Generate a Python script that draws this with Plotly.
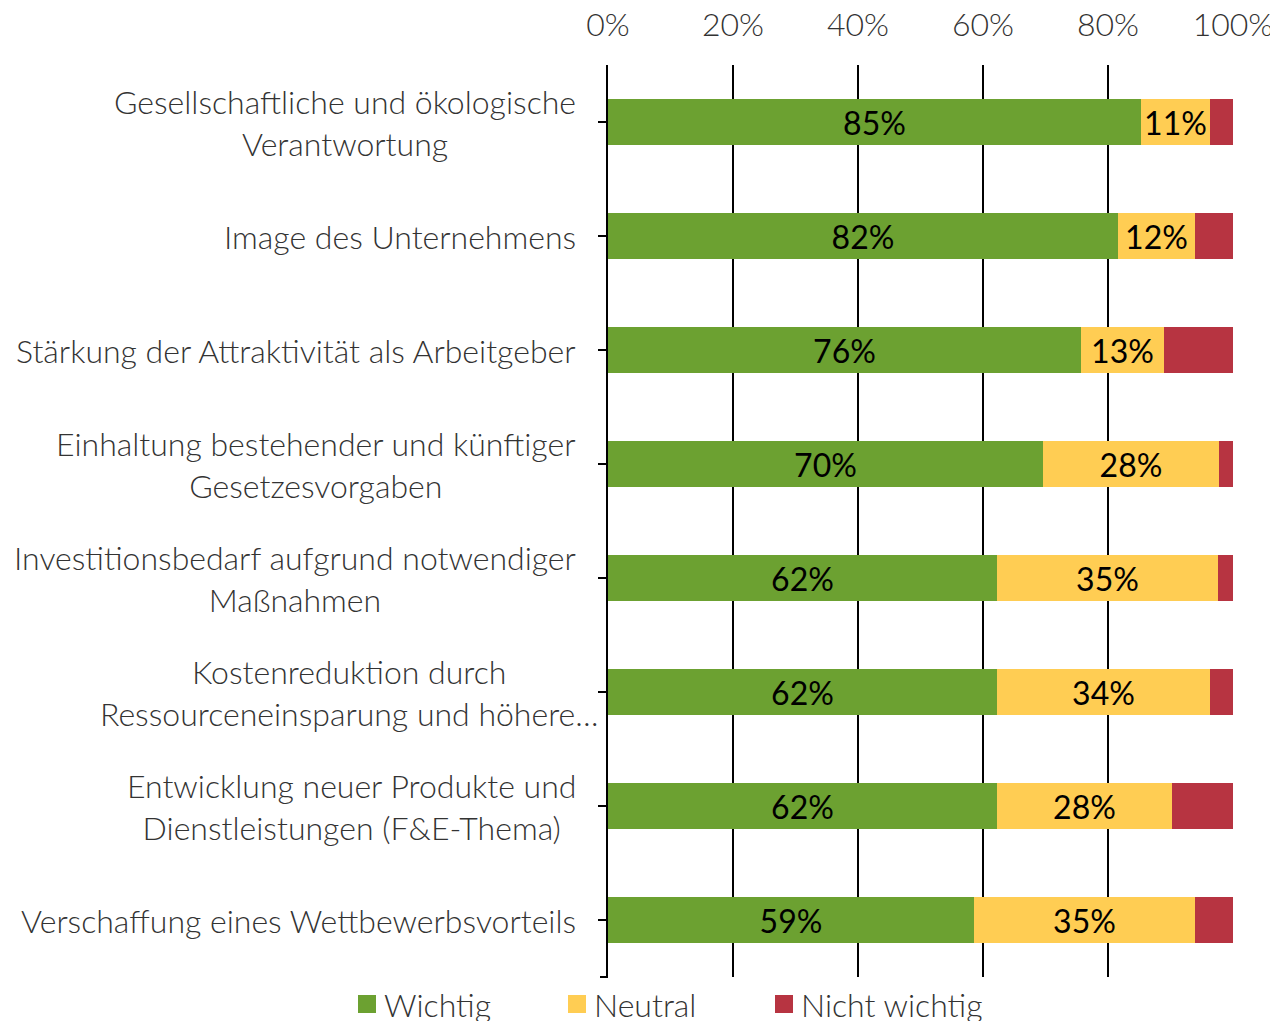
import plotly.graph_objects as go

categories = [
    "Gesellschaftliche und ökologische<br>Verantwortung",
    "Image des Unternehmens",
    "Stärkung der Attraktivität als Arbeitgeber",
    "Einhaltung bestehender und künftiger<br>Gesetzesvorgaben",
    "Investitionsbedarf aufgrund notwendiger<br>Maßnahmen",
    "Kostenreduktion durch<br>Ressourceneinsparung und höhere…",
    "Entwicklung neuer Produkte und<br>Dienstleistungen (F&E-Thema)",
    "Verschaffung eines Wettbewerbsvorteils",
]
series_names = ["Wichtig", "Neutral", "Nicht wichtig"]
wichtig = [85.3, 81.6, 75.6, 69.6, 62.2, 62.2, 62.2, 58.6]
neutral = [11.0, 12.3, 13.4, 28.2, 35.4, 34.1, 28.0, 35.3]
nicht_wichtig = [3.7, 6.1, 11.0, 2.2, 2.4, 3.7, 9.8, 6.1]
tick_vals = [0, 20, 40, 60, 80, 100]
tick_text = ["0%", "20%", "40%", "60%", "80%", "100%"]

GREEN = "#6CA131"
YELLOW = "#FFCD53"
RED = "#B73441"
FONT = "Lato"
FS = 32
TXT = "#333333"

# the page body adds an 8px offset; figure is sized to compensate
W, H = 1270, 1013
ML, MR, MT, MB = 600, 45, 57, 44
PW, PH = W - ML - MR, H - MT - MB

ypos = list(range(len(categories)))
colors = [GREEN, YELLOW, RED]
show_text = [True, True, False]

fig = go.Figure()
for name, vals, col, show in zip(series_names, [wichtig, neutral, nicht_wichtig],
                                 colors, show_text):
    fig.add_trace(go.Bar(
        y=ypos, x=vals, orientation="h", name=name,
        marker=dict(color=col, line=dict(width=0)),
        width=0.395, showlegend=False,
        text=vals if show else None,
        texttemplate="%{x:.0f}%" if show else None,
        textposition="inside", insidetextanchor="middle",
        constraintext="none",
        textfont=dict(family=FONT, size=FS, color="black"),
        hoverinfo="skip",
    ))

# category labels as centered annotations
shifts = [-30, -30, -30, -30, -30, -8, -30, -30]
for i, (cat, sh) in enumerate(zip(categories, shifts)):
    fig.add_annotation(
        x=0, y=i, xref="x", yref="y", text=cat, showarrow=False,
        xanchor="right", yanchor="middle", align="center", xshift=sh,
        font=dict(family=FONT, size=FS, color=TXT, weight=300),
    )

# small tick at the bottom end of the category axis
fig.add_shape(type="line", xref="paper", yref="paper",
              x0=-8 / PW, x1=0, y0=0, y1=0,
              line=dict(color="black", width=2))

# legend drawn manually (square key + label) below the plot
LEG_X = [350, 560, 767]   # left edge of key squares, figure px
LEG_Y = 996               # vertical centre of legend row, figure px
KEY = 18
for name, col, lx in zip(series_names, colors, LEG_X):
    fig.add_shape(type="rect", xref="paper", yref="paper",
                  x0=(lx - ML) / PW, x1=(lx + KEY - ML) / PW,
                  y0=(H - MB - LEG_Y - KEY / 2) / PH,
                  y1=(H - MB - LEG_Y + KEY / 2) / PH,
                  fillcolor=col, line=dict(width=0))
    fig.add_annotation(
        x=(lx + KEY + 6 - ML) / PW, y=(H - MB - LEG_Y) / PH,
        xref="paper", yref="paper", text=name, showarrow=False,
        xanchor="left", yanchor="middle", align="left",
        font=dict(family=FONT, size=FS, color=TXT, weight=300),
    )

fig.update_layout(
    width=W, height=H,
    margin=dict(l=ML, r=MR, t=MT, b=MB, autoexpand=False),
    barmode="stack", bargap=0, showlegend=False,
    plot_bgcolor="white", paper_bgcolor="white",
    font=dict(family=FONT, color=TXT),
    xaxis=dict(
        side="top", range=[0, 100], tickvals=tick_vals, ticktext=tick_text,
        showgrid=True, gridcolor="black", gridwidth=2,
        zeroline=False, showline=False, ticks="",
        tickfont=dict(family=FONT, size=FS, color=TXT, weight=300),
        ticklabelstandoff=22, fixedrange=True, automargin=False,
    ),
    yaxis=dict(
        range=[7.5, -0.5], tickvals=ypos, showticklabels=False,
        ticks="outside", ticklen=8, tickwidth=2, tickcolor="black",
        showline=True, linecolor="black", linewidth=2,
        showgrid=False, zeroline=False, fixedrange=True, automargin=False,
    ),
)

fig.write_html("out.html")
